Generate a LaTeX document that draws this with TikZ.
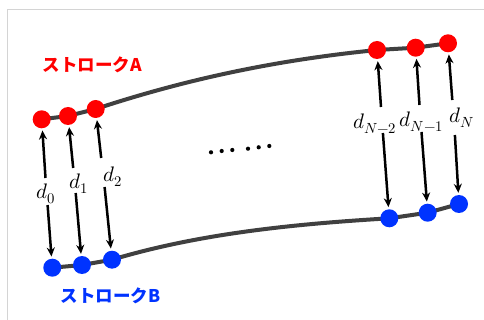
\documentclass[tikz,border=0pt]{standalone}
\usepackage{fontspec}
\usepackage{unicode-math}
\setmathfont{Latin Modern Math}
\newfontfamily\cjk{Noto Sans CJK JP}
\usetikzlibrary{arrows.meta}
\definecolor{strokegray}{RGB}{64,64,64}
\definecolor{redA}{RGB}{255,0,0}
\definecolor{blueB}{RGB}{0,51,255}
\definecolor{framegray}{RGB}{212,212,212}
\tikzset{
  reddot/.style={circle,fill=redA,inner sep=0pt,minimum size=18pt},
  bluedot/.style={circle,fill=blueB,inner sep=0pt,minimum size=18pt},
  strokeline/.style={draw=strokegray,line width=4pt},
  darrow/.style={-{Stealth[length=9pt,width=8pt]},line width=2.5pt,shorten >=2pt},
  dlabel/.style={inner sep=0pt,font=\fontsize{21}{24}\selectfont},
  title/.style={font=\cjk\bfseries\fontsize{17.5}{20}\selectfont,inner sep=0pt},
  ell/.style={circle,fill=black,inner sep=0pt,minimum size=4.2pt}
}
\begin{document}
\begin{tikzpicture}[x=1pt,y=-1pt]
\useasboundingbox (0,0) rectangle (484,320);
\fill[white] (0,0) rectangle (484,320);
\draw[framegray,line width=1pt] (7.5,320) -- (7.5,9.5) -- (484,9.5);
% dot positions
\coordinate (pa0) at (41.7,119.3);
\coordinate (pa1) at (68,116);
\coordinate (pa2) at (95.7,109);
\coordinate (pa3) at (377,50);
\coordinate (pa4) at (415.7,47.7);
\coordinate (pa5) at (448,43.3);
\coordinate (pb0) at (52.3,267.7);
\coordinate (pb1) at (82,265);
\coordinate (pb2) at (112,259.7);
\coordinate (pb3) at (389.3,218.3);
\coordinate (pb4) at (427.7,212.7);
\coordinate (pb5) at (459,204);
% strokes
\draw[strokeline] (pa0) -- (pa1) -- (pa2) .. controls (195.7,76) and (287,59) .. (pa3) -- (pa4) -- (pa5);
\draw[strokeline] (pb0) -- (pb1) -- (pb2) .. controls (202,232.7) and (299.3,223.7) .. (pb3) -- (pb4) -- (pb5);
% dots
\foreach \i in {0,...,5} {
  \node[reddot] (a\i) at (pa\i) {};
  \node[bluedot] (b\i) at (pb\i) {};
}
% gap coordinates
\coordinate (u0) at (45.5,178); \coordinate (l0) at (47.6,205);
\coordinate (u1) at (73.2,168); \coordinate (l1) at (75.7,193);
\coordinate (u2) at (101.2,158); \coordinate (l2) at (104.6,187);
\coordinate (u3) at (381.0,107); \coordinate (l3) at (382.9,133);
\coordinate (u4) at (419.5,105); \coordinate (l4) at (421.5,132);
\coordinate (u5) at (452.3,100); \coordinate (l5) at (454.9,135);
\foreach \i in {0,...,5} {
  \draw[darrow] (u\i) -- (a\i);
  \draw[darrow] (l\i) -- (b\i);
}
% labels
\node[dlabel] (d0) at (45.5,194) {$d_0$};
\node[dlabel] (d1) at (79,184) {$d_1$};
\node[dlabel] (d2) at (113,177) {$d_2$};
\node[dlabel] (d3) at (375,124) {$d_{N-2}$};
\node[dlabel] (d4) at (421.7,122) {$d_{N-1}$};
\node[dlabel] (d5) at (462,118) {$d_N$};
% ellipsis
\node[ell] (e1) at (211,152.3) {};
\node[ell] (e2) at (221.7,151) {};
\node[ell] (e3) at (232.3,150) {};
\node[ell] (e4) at (248,148.7) {};
\node[ell] (e5) at (258.7,147.3) {};
\node[ell] (e6) at (269.3,146) {};
% titles
\node[title,text=redA] (ta) at (92.5,65) {ストロークA};
\node[title,text=blueB] (tb) at (110.5,296) {ストロークB};
\end{tikzpicture}
\end{document}
